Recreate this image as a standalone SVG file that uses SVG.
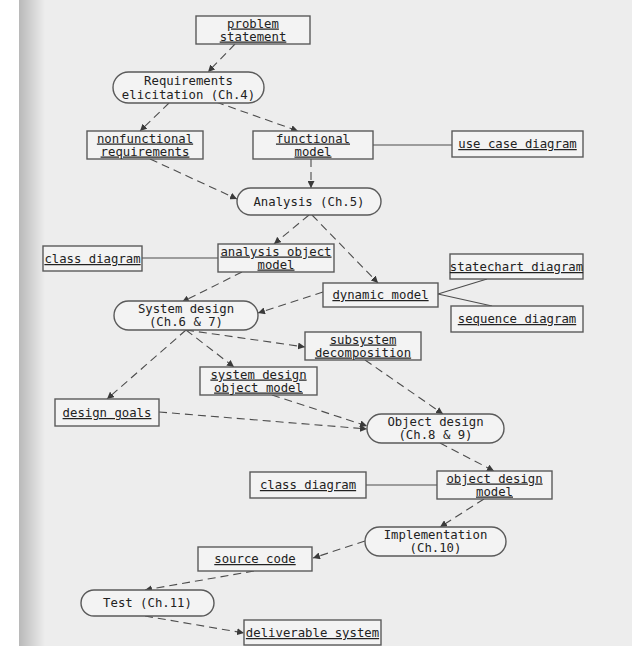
<svg xmlns="http://www.w3.org/2000/svg" width="632" height="652" viewBox="0 0 632 652">
  <defs>
    <linearGradient id="edge" x1="0" y1="0" x2="1" y2="0">
      <stop offset="0" stop-color="#b9b9b9"/>
      <stop offset="1" stop-color="#ededed"/>
    </linearGradient>
    <marker id="arr" viewBox="0 0 10 10" refX="10" refY="5" markerWidth="7" markerHeight="7" markerUnits="userSpaceOnUse" orient="auto">
      <path d="M0,0 L10,5 L0,10 z" fill="#3a3a3a"/>
    </marker>
    <style>
      .obj { fill: #f3f3f3; stroke: #5a5a5a; stroke-width: 1.4; }
      .act { fill: #f3f3f3; stroke: #5a5a5a; stroke-width: 1.4; }
      text { font-family: "DejaVu Sans Mono", "Liberation Mono", monospace; font-size: 12.3px; fill: #222; text-anchor: middle; }
      .u { text-decoration: underline; }
      .flow { fill: none; stroke: #4d4d4d; stroke-width: 1.1; stroke-dasharray: 8 5; marker-end: url(#arr); }
      .link { fill: none; stroke: #4d4d4d; stroke-width: 1.2; }
    </style>
  </defs>

  <!-- page -->
  <rect x="0" y="0" width="632" height="652" fill="#ffffff"/>
  <rect x="19" y="0" width="613" height="646" fill="#ededed"/>
  <rect x="19" y="0" width="26" height="646" fill="url(#edge)"/>

  <!-- connectors -->
  <g id="connectors">
    <line class="flow" x1="235" y1="44" x2="208" y2="72"/>
    <line class="flow" x1="169" y1="103" x2="140" y2="131"/>
    <line class="flow" x1="216" y1="102" x2="298" y2="131"/>
    <line class="flow" x1="311" y1="159" x2="311" y2="188"/>
    <line class="flow" x1="150" y1="159" x2="237" y2="199"/>
    <line class="link" x1="373" y1="145" x2="452" y2="145"/>
    <line class="flow" x1="309" y1="215" x2="274" y2="244"/>
    <line class="flow" x1="312" y1="215" x2="378" y2="283"/>
    <line class="link" x1="142" y1="258" x2="218" y2="258"/>
    <line class="flow" x1="242" y1="272" x2="182" y2="302"/>
    <line class="flow" x1="323" y1="292" x2="258" y2="313"/>
    <line class="link" x1="438" y1="294" x2="487" y2="279"/>
    <line class="link" x1="438" y1="294" x2="492" y2="306"/>
    <line class="flow" x1="186" y1="330" x2="305" y2="347"/>
    <line class="flow" x1="186" y1="330" x2="234" y2="367"/>
    <line class="flow" x1="186" y1="330" x2="107" y2="399"/>
    <line class="flow" x1="365" y1="360" x2="443" y2="414"/>
    <line class="flow" x1="159" y1="412" x2="367" y2="429"/>
    <line class="flow" x1="272" y1="395" x2="367" y2="426"/>
    <line class="flow" x1="440" y1="443" x2="494" y2="471"/>
    <line class="link" x1="366" y1="485" x2="437" y2="485"/>
    <line class="flow" x1="484" y1="499" x2="440" y2="527"/>
    <line class="flow" x1="365" y1="541" x2="313" y2="558"/>
    <line class="flow" x1="254" y1="571" x2="145" y2="590"/>
    <line class="flow" x1="145" y1="616" x2="244" y2="633"/>
  </g>

  <!-- nodes -->
  <g id="problem-statement">
    <rect class="obj" x="196" y="16" width="114" height="28"/>
    <text class="u" x="253" y="27.5">problem</text>
    <text class="u" x="253" y="40.5">statement</text>
  </g>
  <g id="requirements-elicitation">
    <rect class="act" x="113" y="72" width="151" height="31" rx="15.5"/>
    <text x="188.5" y="85">Requirements</text>
    <text x="188.5" y="98.5">elicitation (Ch.4)</text>
  </g>
  <g id="nonfunctional-requirements">
    <rect class="obj" x="87" y="131" width="116" height="28"/>
    <text class="u" x="145" y="142.5">nonfunctional</text>
    <text class="u" x="145" y="155.5">requirements</text>
  </g>
  <g id="functional-model">
    <rect class="obj" x="253" y="131" width="120" height="28"/>
    <text class="u" x="313" y="142.5">functional</text>
    <text class="u" x="313" y="155.5">model</text>
  </g>
  <g id="use-case-diagram">
    <rect class="obj" x="452" y="131" width="131" height="26"/>
    <text class="u" x="517.5" y="148">use case diagram</text>
  </g>
  <g id="analysis">
    <rect class="act" x="237" y="188" width="144" height="27" rx="13.5"/>
    <text x="309" y="206">Analysis (Ch.5)</text>
  </g>
  <g id="class-diagram-analysis">
    <rect class="obj" x="43" y="246" width="99" height="25"/>
    <text class="u" x="92.5" y="263">class diagram</text>
  </g>
  <g id="analysis-object-model">
    <rect class="obj" x="218" y="244" width="116" height="28"/>
    <text class="u" x="276" y="255.5">analysis object</text>
    <text class="u" x="276" y="268.5">model</text>
  </g>
  <g id="statechart-diagram">
    <rect class="obj" x="450" y="254" width="133" height="25"/>
    <text class="u" x="516.5" y="271">statechart diagram</text>
  </g>
  <g id="dynamic-model">
    <rect class="obj" x="323" y="283" width="115" height="24"/>
    <text class="u" x="380.5" y="299">dynamic model</text>
  </g>
  <g id="sequence-diagram">
    <rect class="obj" x="451" y="306" width="132" height="26"/>
    <text class="u" x="517" y="323">sequence diagram</text>
  </g>
  <g id="system-design">
    <rect class="act" x="114" y="301" width="144" height="29" rx="14.5"/>
    <text x="186" y="313">System design</text>
    <text x="186" y="326">(Ch.6 &amp; 7)</text>
  </g>
  <g id="subsystem-decomposition">
    <rect class="obj" x="305" y="332" width="116" height="28"/>
    <text class="u" x="363" y="343.5">subsystem</text>
    <text class="u" x="363" y="356.5">decomposition</text>
  </g>
  <g id="system-design-object-model">
    <rect class="obj" x="200" y="367" width="117" height="28"/>
    <text class="u" x="258.5" y="378.5">system design</text>
    <text class="u" x="258.5" y="391.5">object model</text>
  </g>
  <g id="design-goals">
    <rect class="obj" x="55" y="399" width="104" height="27"/>
    <text class="u" x="107" y="417">design goals</text>
  </g>
  <g id="object-design">
    <rect class="act" x="367" y="414" width="137" height="29" rx="14.5"/>
    <text x="435.5" y="426">Object design</text>
    <text x="435.5" y="439">(Ch.8 &amp; 9)</text>
  </g>
  <g id="class-diagram-design">
    <rect class="obj" x="250" y="472" width="116" height="26"/>
    <text class="u" x="308" y="489">class diagram</text>
  </g>
  <g id="object-design-model">
    <rect class="obj" x="437" y="471" width="115" height="28"/>
    <text class="u" x="494.5" y="482.5">object design</text>
    <text class="u" x="494.5" y="495.5">model</text>
  </g>
  <g id="implementation">
    <rect class="act" x="365" y="527" width="141" height="29" rx="14.5"/>
    <text x="435.5" y="539">Implementation</text>
    <text x="435.5" y="552">(Ch.10)</text>
  </g>
  <g id="source-code">
    <rect class="obj" x="198" y="547" width="114" height="24"/>
    <text class="u" x="255" y="563">source code</text>
  </g>
  <g id="test">
    <rect class="act" x="81" y="590" width="133" height="26" rx="13"/>
    <text x="147.5" y="607">Test (Ch.11)</text>
  </g>
  <g id="deliverable-system">
    <rect class="obj" x="244" y="620" width="137" height="25"/>
    <text class="u" x="312.5" y="637">deliverable system</text>
  </g>
</svg>
